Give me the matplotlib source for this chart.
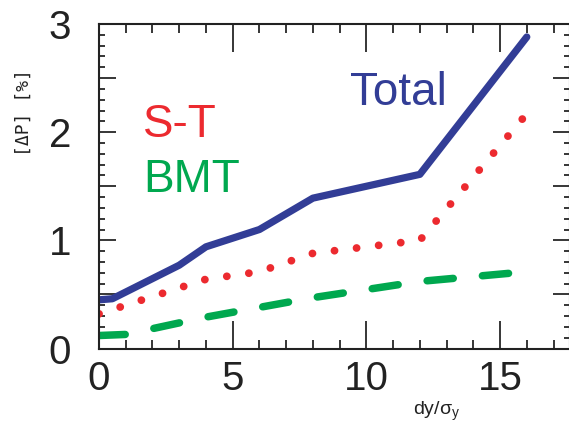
import matplotlib
matplotlib.use("Agg")
import matplotlib.pyplot as plt
from matplotlib.ticker import MultipleLocator

# data
total_x = [0, 0.5, 3, 4, 6, 8, 12, 16]
total_y = [0.45, 0.46, 0.77, 0.94, 1.10, 1.39, 1.61, 2.88]
st_x = [0, 4, 6, 8, 12, 16]
st_y = [0.32, 0.64, 0.71, 0.88, 1.00, 2.17]
bmt_x = [0, 1, 4, 8, 12, 16]
bmt_y = [0.12, 0.13, 0.29, 0.47, 0.62, 0.71]
x_major = [0, 5, 10, 15]
y_major_labels = [0, 1, 2, 3]

blue = "#323D96"
red = "#EC2A2F"
green = "#00A84F"

W, H = 569, 425
fig = plt.figure(figsize=(W / 100, H / 100), dpi=100)
ax = fig.add_axes([99 / W, 1 - 348.5 / H, 1 - 99 / W + 0.001, (348.5 - 24) / H])

ax.plot(total_x, total_y, color=blue, lw=5.2, solid_capstyle="round", solid_joinstyle="round")
ax.plot(st_x, st_y, color=red, lw=5.6, linestyle=(0, (0.01, 2.85)), dash_capstyle="round")
ax.plot(bmt_x, bmt_y, color=green, lw=5.4, linestyle=(0, (3.5, 3.9)), dash_capstyle="round")

ax.set_xlim(0, 17.6)
ax.set_ylim(0, 3)

ax.xaxis.set_major_locator(MultipleLocator(5))
ax.xaxis.set_minor_locator(MultipleLocator(1))
ax.yaxis.set_major_locator(MultipleLocator(0.5))
ax.yaxis.set_minor_locator(MultipleLocator(0.1))

tick_font = ["Liberation Sans", "DejaVu Sans"]
ax.set_xticks(x_major)
ax.set_xticklabels([str(v) for v in x_major], fontsize=29, family=tick_font, color="#222222")
yt = [v * 0.5 for v in range(7)]
ax.set_yticks(yt)
ax.set_yticklabels([str(int(v)) if v in y_major_labels else "" for v in yt],
                   fontsize=29, family=tick_font, color="#222222")

ax.tick_params(axis="x", which="major", direction="in", length=20, width=1.1, top=True, pad=8)
ax.tick_params(axis="x", which="minor", direction="in", length=6.5, width=1.1, top=True)
ax.tick_params(axis="y", which="major", direction="in", length=12, width=1.1, right=True, pad=20)
ax.tick_params(axis="y", which="minor", direction="in", length=4.3, width=1.1, right=True)
for s in ax.spines.values():
    s.set_linewidth(1.5)
    s.set_color("#222222")

lab_font = ["Liberation Sans", "DejaVu Sans"]
fig.text(350 / W, 1 - 105 / H, "Total", fontsize=33, color=blue,
         family=lab_font, ha="left", va="baseline")
fig.text(143 / W, 1 - 137 / H, "S-T", fontsize=33, color=red,
         family=lab_font, ha="left", va="baseline")
fig.text(143 / W, 1 - 192 / H, "BMT", fontsize=33, color=green,
         family=lab_font, ha="left", va="baseline")

fig.text(24 / W, 1 - 112 / H, "[\u0394P] [%]", rotation=90, fontsize=13,
         family=["DejaVu Sans Mono"], ha="center", va="center", color="#222222")
fig.text(437 / W, 1 - 411 / H, "dy/\u03c3$_\\mathregular{y}$", fontsize=14,
         family=tick_font, ha="center", va="center", color="#222222")

fig.savefig("out.png", dpi=100)
